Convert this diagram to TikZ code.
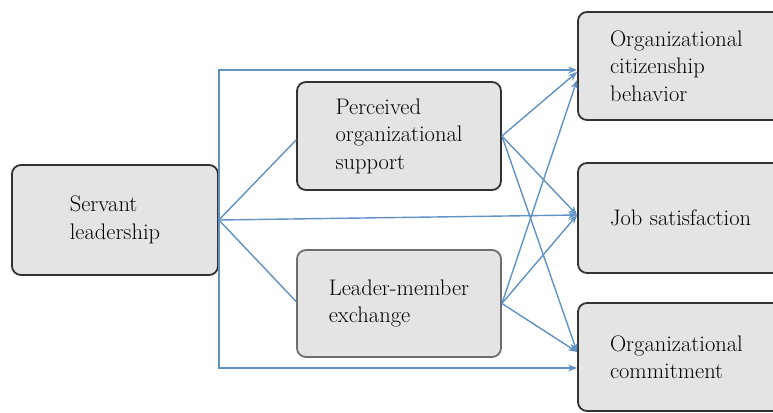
\documentclass[tikz,border=0pt]{standalone}
\usetikzlibrary{arrows.meta}
\definecolor{boxfill}{RGB}{228,228,228}
\definecolor{boxline}{RGB}{50,50,50}
\definecolor{lmxline}{RGB}{110,110,110}
\definecolor{arrowblue}{RGB}{96,146,196}
\tikzset{
  box/.style={draw=boxline, line width=1.8pt, fill=boxfill, rounded corners=9pt,
    align=left, inner sep=0pt, text=black, font=\rmfamily\fontsize{22.5}{27.5}\selectfont},
  outbox/.style={box, inner xsep=32pt, text width=148pt, minimum width=212pt},
  link/.style={draw=arrowblue, line width=1.4pt},
  linkarrow/.style={link, -{Stealth[length=9pt,width=7pt]}}
}
\begin{document}
\begin{tikzpicture}[x=1pt,y=-1pt]
\useasboundingbox (0,0) rectangle (773,412);
\fill[white] (0,0) rectangle (773,412);
\clip (0,0) rectangle (773,412);
% boxes
\node[box, minimum width=206pt, minimum height=110pt] (sl) at (115,220) {Servant\\leadership};
\node[box, minimum width=204pt, minimum height=108pt] (pos) at (399,136) {Perceived\\organizational\\support};
\node[box, draw=lmxline, minimum width=204pt, minimum height=107pt] (lmx) at (399,303.5) {Leader-member\\exchange};
\node[outbox, minimum height=108pt] (ocb) at (684,66) {Organizational\\citizenship\\behavior};
\node[outbox, minimum height=110pt] (js) at (684,218) {Job satisfaction};
\node[outbox, minimum height=108pt] (oc) at (684,357) {Organizational\\commitment};
% connectors
\draw[linkarrow] (sl.east) |- ([yshift=-4pt]ocb.west);
\draw[linkarrow] (sl.east) |- ([yshift=-11pt]oc.west);
\draw[link] (sl.east) -- ([yshift=-4pt]pos.west);
\draw[link] (sl.east) -- ([yshift=2pt]lmx.west);
\draw[linkarrow] (sl.east) -- ([yshift=3pt]js.west);
\draw[linkarrow] (pos.east) -- ([yshift=-6pt]ocb.west);
\draw[linkarrow] (pos.east) -- ([yshift=3pt]js.west);
\draw[linkarrow] (pos.east) -- ([yshift=5pt]oc.west);
\draw[linkarrow] (lmx.east) -- ([yshift=-14pt]ocb.west);
\draw[linkarrow] (lmx.east) -- ([yshift=3pt]js.west);
\draw[linkarrow] (lmx.east) -- ([yshift=5pt]oc.west);
\end{tikzpicture}
\end{document}
